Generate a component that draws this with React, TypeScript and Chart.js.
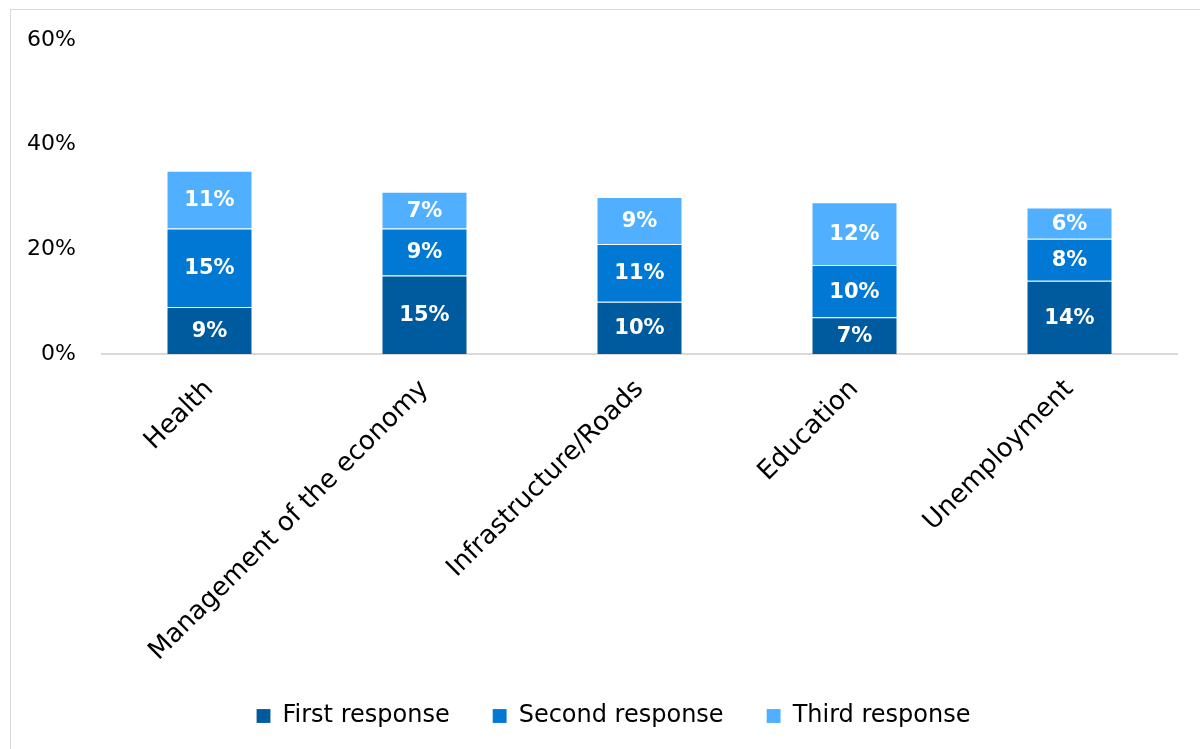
import React, { useEffect, useRef } from "react";
import { Chart, registerables } from "chart.js";

Chart.register(...registerables);

const categories = ["Health", "Management of the economy", "Infrastructure/Roads", "Education", "Unemployment"];
const firstResponse = [9, 15, 10, 7, 14];
const secondResponse = [15, 9, 11, 10, 8];
const thirdResponse = [11, 7, 9, 12, 6];
const seriesNames = ["First response", "Second response", "Third response"];
const yTicks = [0, 20, 40, 60];

const FONT = "'DejaVu Sans', sans-serif";

const dataLabelPlugin = {
  id: "segLabels",
  afterDatasetsDraw(chart: any) {
    const ctx = chart.ctx;
    ctx.save();
    ctx.font = `bold 21px ${FONT}`;
    ctx.fillStyle = "#ffffff";
    ctx.textAlign = "center";
    ctx.textBaseline = "middle";
    chart.data.datasets.forEach((ds: any, di: number) => {
      const meta = chart.getDatasetMeta(di);
      meta.data.forEach((bar: any, i: number) => {
        const { x, y, base } = bar.getProps(["x", "y", "base"], true);
        ctx.fillText(`${ds.data[i]}%`, x, (y + base) / 2 + 1);
      });
    });
    ctx.restore();
  },
};

const legendShiftPlugin = {
  id: "legendShift",
  afterLayout(chart: any) {
    const lg = chart.legend;
    if (lg) {
      lg.left += 25;
      lg.right += 25;
    }
  },
};

export default function App() {
  const ref = useRef<HTMLCanvasElement>(null);
  useEffect(() => {
    if (!ref.current) return;
    const chart = new Chart(ref.current, {
      type: "bar",
      data: {
        labels: categories,
        datasets: [
          { label: seriesNames[0], data: firstResponse, backgroundColor: "#005A9E" },
          { label: seriesNames[1], data: secondResponse, backgroundColor: "#0078D4" },
          { label: seriesNames[2], data: thirdResponse, backgroundColor: "#50B0FF" },
        ].map((d) => ({
          ...d,
          borderColor: "rgba(255,255,255,0.15)",
          borderWidth: 1,
          categoryPercentage: 1,
          barPercentage: 0.4,
        })),
      },
      options: {
        animation: false,
        responsive: false,
        maintainAspectRatio: false,
        layout: { padding: { left: 0, right: 23, top: 40, bottom: 11 } },
        plugins: {
          tooltip: { enabled: false },
          legend: {
            position: "bottom",
            labels: {
              font: { family: FONT, size: 24 },
              color: "#000000",
              boxWidth: 14,
              boxHeight: 14,
              padding: 43,
            },
          },
        },
        scales: {
          x: {
            stacked: true,
            grid: { display: false, drawTicks: false },
            border: { display: true, color: "#d9d9d9", width: 2 },
            ticks: {
              font: { family: FONT, size: 26 },
              color: "#000000",
              minRotation: 45,
              maxRotation: 45,
              padding: 20,
              autoSkip: false,
            },
            afterFit: (s: any) => {
              s.height = 307;
            },
          },
          y: {
            stacked: true,
            min: 0,
            max: 60,
            grid: { display: false, drawTicks: false },
            border: { display: false },
            afterBuildTicks: (s: any) => {
              s.ticks = yTicks.map((v) => ({ value: v }));
            },
            ticks: {
              font: { family: FONT, size: 22 },
              color: "#000000",
              padding: 26,
              callback: (v: any) => `${v}%`,
            },
            afterFit: (s: any) => {
              s.width = 102;
            },
          },
        },
      },
      plugins: [dataLabelPlugin, legendShiftPlugin],
    });
    return () => chart.destroy();
  }, []);

  return (
    <div style={{ position: "fixed", left: 0, top: 0, width: 1200, height: 749, overflow: "hidden", background: "#fff" }}>
      <div style={{ position: "absolute", left: 10, top: 9, width: 1250, height: 800, border: "1px solid #d9d9d9", boxSizing: "border-box" }} />
      <canvas ref={ref} width={1200} height={749} style={{ position: "absolute", left: 0, top: 0, width: 1200, height: 749 }} />
    </div>
  );
}
